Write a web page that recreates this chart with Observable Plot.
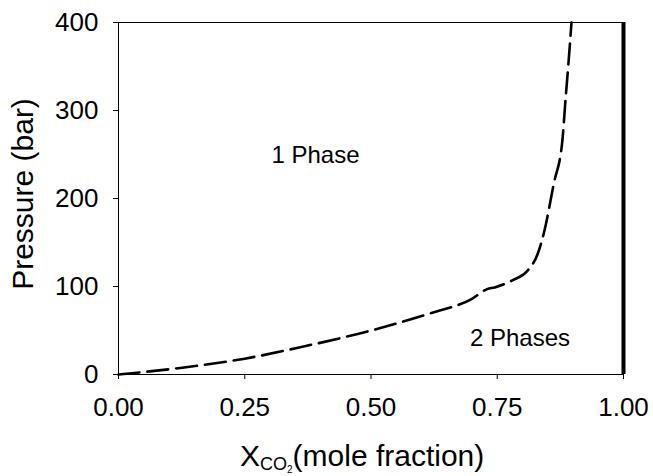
<!DOCTYPE html>
<html>
<head>
<meta charset="utf-8">
<script src="https://cdn.jsdelivr.net/npm/d3@7"></script>
<script src="https://cdn.jsdelivr.net/npm/@observablehq/plot@0.6"></script>
<style>
  html, body { margin: 0; padding: 0; background: white; }
  svg { display: block; }
</style>
</head>
<body>
<div id="chart"></div>
<script>
// Phase boundary (dashed)
const xco2 = [0, 0.13, 0.25, 0.36, 0.50, 0.62, 0.70, 0.73, 0.745, 0.78, 0.81, 0.83, 0.842, 0.862, 0.879, 0.885, 0.892, 0.897];
const pressure = [0, 8, 18, 31, 50, 70, 86, 97, 99, 107, 118, 137, 160, 217, 266, 311, 361, 400];

const xTicks = [0, 0.25, 0.5, 0.75, 1.0];
const yTicks = [0, 100, 200, 300, 400];

const regionLabels = ["1 Phase", "2 Phases"];
const regionX = [0.39, 0.795];
const regionP = [249, 41];

const pureCO2 = [1.0];

const boundary = xco2.map((x, i) => ({x, p: pressure[i]}));
const regions = regionLabels.map((t, i) => ({t, x: regionX[i], p: regionP[i]}));

const font = "Liberation Sans, Arial, Helvetica, sans-serif";

const chart = Plot.plot({
  width: 653,
  height: 476,
  marginLeft: 118,
  marginRight: 30,
  marginTop: 22,
  marginBottom: 102,
  style: {fontFamily: font, color: "black", background: "white", overflow: "visible"},
  x: {domain: [0, 1]},
  y: {domain: [0, 400]},
  marks: [
    Plot.frame({stroke: "black", strokeWidth: 1}),
    Plot.axisX({ticks: xTicks, tickFormat: d => d.toFixed(2), tickSize: 5, tickPadding: 18, label: null, fontSize: 26}),
    Plot.axisY({ticks: yTicks, tickSize: 5, tickPadding: 15, label: null, fontSize: 26}),
    Plot.line(boundary, {x: "x", y: "p", stroke: "black", strokeWidth: 2.6, strokeDasharray: "21,8", curve: "monotone-x"}),
    Plot.ruleX(pureCO2, {y1: 0, y2: 400, stroke: "black", strokeWidth: 4}),
    Plot.text(regions, {x: "x", y: "p", text: "t", fontSize: 24, fill: "black"})
  ]
});

document.getElementById("chart").appendChild(chart);

const svg = d3.select(chart);
// y-axis title
svg.append("text")
  .attr("transform", "translate(33,194) rotate(-90)")
  .attr("text-anchor", "middle")
  .attr("font-family", font)
  .attr("font-size", 30)
  .attr("fill", "black")
  .text("Pressure (bar)");

// x-axis title with subscript
const xt = svg.append("text")
  .attr("x", 240)
  .attr("y", 466)
  .attr("text-anchor", "start")
  .attr("font-family", font)
  .attr("font-size", 30)
  .attr("fill", "black");
xt.append("tspan").text("X");
xt.append("tspan").attr("font-size", 18).attr("dy", 4).text("CO");
xt.append("tspan").attr("font-size", 10).attr("dy", 3).text("2");
xt.append("tspan").attr("dy", -7).text("(mole fraction)");
</script>
</body>
</html>
